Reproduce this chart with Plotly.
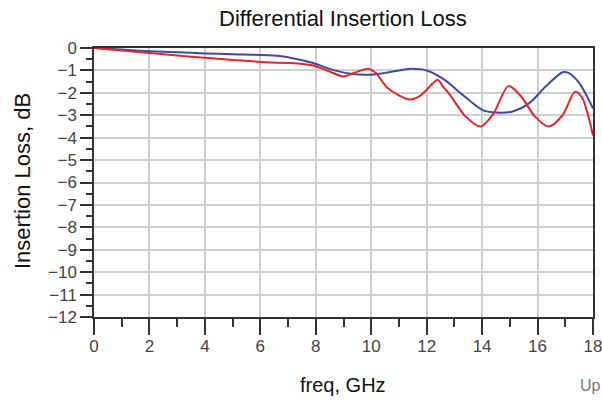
import plotly.graph_objects as go

blue_freq = [0, 1, 2, 3, 4, 5, 6, 6.7, 7.3, 7.9, 8.5, 9.2, 10.0, 10.5, 11.0, 11.5, 12.0, 12.6, 13.3, 14.0, 14.5, 15.1, 15.7, 16.3, 16.9, 17.1, 17.5, 18.0]
blue_db = [0, -0.07, -0.14, -0.19, -0.24, -0.28, -0.31, -0.36, -0.49, -0.67, -0.93, -1.14, -1.19, -1.11, -1.0, -0.93, -1.0, -1.38, -2.09, -2.76, -2.88, -2.83, -2.46, -1.71, -1.08, -1.1, -1.56, -2.7]

red_freq = [0, 1, 2, 3, 4, 5, 5.7, 6.4, 7.1, 7.9, 8.5, 9.0, 9.4, 9.9, 10.1, 10.2, 10.6, 11.4, 11.8, 12.4, 12.6, 12.8, 13.4, 13.95, 14.4, 14.95, 15.4, 15.9, 16.4, 16.9, 17.35, 17.6, 18.0]
red_db = [0, -0.11, -0.22, -0.33, -0.44, -0.53, -0.59, -0.65, -0.67, -0.78, -1.05, -1.27, -1.1, -0.93, -1.05, -1.15, -1.8, -2.3, -2.1, -1.42, -1.75, -2.02, -3.05, -3.5, -2.95, -1.7, -2.15, -3.05, -3.5, -3.0, -1.95, -2.2, -3.9]

x_ticks = list(range(0, 19, 2))
y_ticks = list(range(-12, 1))

W, H = 602, 400
L, R, T, B = 94, 9, 48, 83
pw, ph = W - L - R, H - T - B

def px(x):
    return (x - L) / pw

def py(y):
    return (H - B - y) / ph

fig = go.Figure()
fig.add_trace(go.Scatter(x=blue_freq, y=blue_db, mode="lines",
                         line=dict(color="#3b4ba6", width=2, shape="spline", smoothing=0.8),
                         showlegend=False))
fig.add_trace(go.Scatter(x=red_freq, y=red_db, mode="lines",
                         line=dict(color="#e3262b", width=2, shape="spline", smoothing=0.8),
                         showlegend=False))

font_family = "Liberation Sans, Arial, sans-serif"

fig.update_layout(
    width=W, height=H,
    margin=dict(l=L, r=R, t=T, b=B),
    paper_bgcolor="white", plot_bgcolor="white",
    font=dict(family=font_family, color="#222"),
    xaxis=dict(range=[0, 18], tickvals=x_ticks, ticks="outside", ticklen=16,
               tickcolor="#333", tickwidth=1.5, automargin=False,
               ticklabeloverflow="allow", ticklabelstandoff=-3,
               showgrid=True, gridcolor="#cfcfcf", gridwidth=2,
               showline=True, linecolor="#333", linewidth=1.5, mirror=True,
               tickfont=dict(size=17, color="#444"),
               minor=dict(dtick=1, ticks="outside", ticklen=8, tickcolor="#333", showgrid=False),
               zeroline=False),
    yaxis=dict(range=[-12, 0], tickvals=y_ticks, ticks="outside", ticklen=12,
               tickcolor="#333", tickwidth=1.5, automargin=False,
               showgrid=True, gridcolor="#cfcfcf", gridwidth=2,
               showline=True, linecolor="#333", linewidth=1.5, mirror=True,
               tickfont=dict(size=17, color="#444"),
               minor=dict(dtick=0.5, ticks="outside", ticklen=6, tickcolor="#333", showgrid=False),
               zeroline=False),
)

fig.add_annotation(text="Differential Insertion Loss", xref="paper", yref="paper",
                   x=px(343), y=py(18), xanchor="center", yanchor="middle",
                   showarrow=False, font=dict(size=22, color="#111"))
fig.add_annotation(text="Insertion Loss, dB", xref="paper", yref="paper",
                   x=px(22), y=py(181), xanchor="center", yanchor="middle", textangle=-90,
                   showarrow=False, font=dict(size=22, color="#111"))
fig.add_annotation(text="freq, GHz", xref="paper", yref="paper",
                   x=px(343), y=py(385), xanchor="center", yanchor="middle",
                   showarrow=False, font=dict(size=20, color="#111"))
fig.add_annotation(text="Up", xref="paper", yref="paper",
                   x=px(578), y=py(385), xanchor="left", yanchor="middle",
                   showarrow=False, font=dict(size=16, color="#777"))

fig.write_html("out.html", config={"displayModeBar": False},
               post_script="document.body.style.margin='0';document.body.style.overflow='hidden';")
